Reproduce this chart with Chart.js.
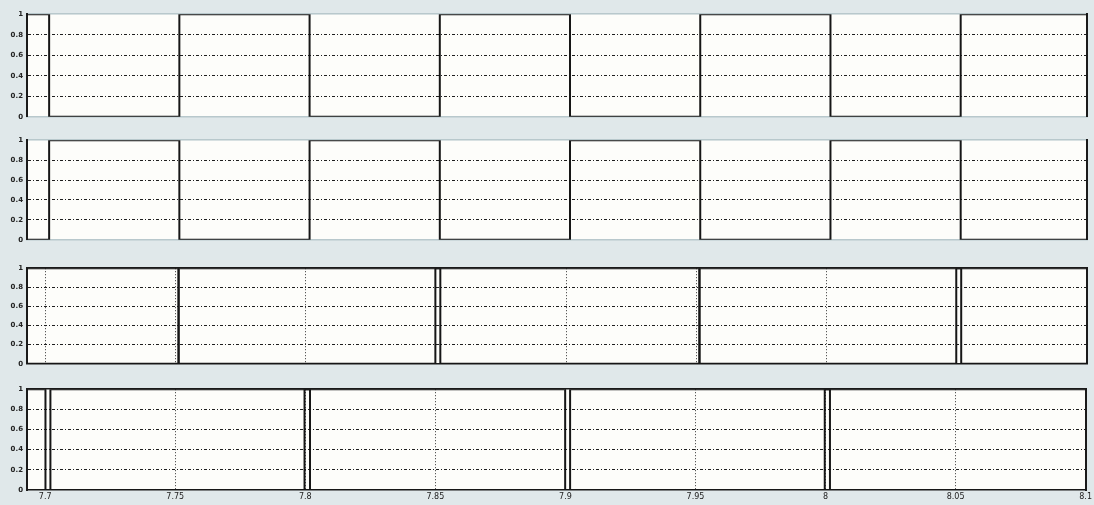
<!DOCTYPE html>
<html lang="en">
<head>
    <meta charset="UTF-8">
    <title>Scope</title>
    <script src="https://cdn.jsdelivr.net/npm/chart.js"></script>
    <style>
        body {
            margin: 0;
            padding: 0;
            background-color: #e0e8ea;
            width: 1094px;
            height: 505px;
            overflow: hidden;
            position: relative;
        }
        canvas {
            position: absolute;
            left: 0;
        }
    </style>
</head>
<body>
    <canvas id="p1"></canvas>
    <canvas id="p2"></canvas>
    <canvas id="p3"></canvas>
    <canvas id="p4"></canvas>

    <script>
        // x axis range and ticks
        const xMin = 7.693;
        const xMax = 8.1;
        const xTickValues = [7.7, 7.75, 7.8, 7.85, 7.9, 7.95, 8.0, 8.05, 8.1];
        const xTickLabels = ['7.7', '7.75', '7.8', '7.85', '7.9', '7.95', '8', '8.05', '8.1'];
        const yTickValues = [0, 0.2, 0.4, 0.6, 0.8, 1];
        const yTickLabels = ['0', '0.2', '0.4', '0.6', '0.8', '1'];

        // panel 1 / 2 : switching signals (time of each edge, level after it)
        const s1Times  = [7.693, 7.7015, 7.7515, 7.8015, 7.8515, 7.9015, 7.9515, 8.0015, 8.0515, 8.1];
        const s1Levels = [1, 0, 1, 0, 1, 0, 1, 0, 1, 1];
        const s2Times  = [7.693, 7.7015, 7.7515, 7.8015, 7.8515, 7.9015, 7.9515, 8.0015, 8.0515, 8.1];
        const s2Levels = [0, 1, 0, 1, 0, 1, 0, 1, 0, 0];

        // panel 3 : two complementary signals
        const s3aTimes  = [7.693, 7.7512, 7.8498, 7.9512, 8.0498, 8.1];
        const s3aLevels = [1, 0, 1, 0, 1, 1];
        const s3bTimes  = [7.693, 7.7512, 7.8517, 7.9512, 8.0517, 8.1];
        const s3bLevels = [0, 1, 0, 1, 0, 0];

        // panel 4 : two complementary signals
        const s4aTimes  = [7.693, 7.7001, 7.7997, 7.8999, 7.9997, 8.1];
        const s4aLevels = [1, 0, 1, 0, 1, 1];
        const s4bTimes  = [7.693, 7.702, 7.8018, 7.9018, 8.0017, 8.1];
        const s4bLevels = [0, 1, 0, 1, 0, 0];

        function toPoints(times, levels) {
            return times.map((t, i) => ({ x: t, y: levels[i] }));
        }

        // white plot area
        const plotBg = {
            id: 'plotBg',
            beforeDraw(chart) {
                const a = chart.chartArea;
                const ctx = chart.ctx;
                ctx.save();
                ctx.fillStyle = '#fdfdfa';
                ctx.fillRect(a.left, a.top, a.right - a.left, a.bottom - a.top);
                ctx.restore();
            }
        };

        function makePanel(id, top, areaH, series, opts) {
            const canvas = document.getElementById(id);
            const padTop = 8;
            const axisH = opts.showX ? 15 : 0;
            const padBottom = opts.showX ? 0 : 8;
            canvas.width = 1094;
            canvas.height = padTop + areaH + axisH + padBottom;
            canvas.style.top = (top - padTop) + 'px';

            const datasets = series.map(s => ({
                data: toPoints(s.times, s.levels),
                borderColor: s.color || '#161616',
                borderWidth: 2,
                stepped: true,
                pointRadius: 0,
                fill: false
            }));

            new Chart(canvas.getContext('2d'), {
                type: 'line',
                data: { datasets: datasets },
                options: {
                    responsive: false,
                    animation: false,
                    layout: { padding: { top: padTop, bottom: padBottom, left: 0, right: 7 } },
                    plugins: { legend: { display: false }, tooltip: { enabled: false } },
                    scales: {
                        x: {
                            type: 'linear',
                            min: xMin,
                            max: xMax,
                            afterBuildTicks: s => { s.ticks = xTickValues.map(v => ({ value: v })); },
                            afterFit: s => { s.height = axisH; },
                            ticks: {
                                display: opts.showX,
                                autoSkip: false,
                                maxRotation: 0,
                                padding: 2,
                                color: '#222',
                                font: { family: 'DejaVu Sans', size: 8 },
                                callback: (v, i) => xTickLabels[i]
                            },
                            grid: {
                                display: opts.vGrid,
                                drawTicks: false,
                                color: ctx => (ctx.tick && ctx.tick.value >= 8.1) ? 'rgba(0,0,0,0)' : '#333',
                                lineWidth: 1
                            },
                            // in v4 border.dash styles the grid lines
                            border: { display: true, color: opts.boxColor, width: 1.5, dash: [1, 2] }
                        },
                        x2: {
                            type: 'linear',
                            position: 'top',
                            min: xMin,
                            max: xMax,
                            afterFit: s => { s.height = 0; },
                            ticks: { display: false },
                            grid: { display: false, drawTicks: false },
                            border: { display: true, color: opts.boxColor, width: 1.5 }
                        },
                        y: {
                            min: 0,
                            max: 1,
                            afterBuildTicks: s => { s.ticks = yTickValues.map(v => ({ value: v })); },
                            afterFit: s => { s.width = 27; },
                            ticks: {
                                padding: 4,
                                color: '#222',
                                font: { family: 'DejaVu Sans', size: 7, weight: 'bold' },
                                callback: (v, i) => yTickLabels[i]
                            },
                            grid: {
                                drawTicks: false,
                                color: ctx => (ctx.tick && (ctx.tick.value === 0 || ctx.tick.value === 1)) ? 'rgba(0,0,0,0)' : '#1e1e1e',
                                lineWidth: 1
                            },
                            border: { display: true, color: '#1a1a1a', width: 2, dash: [3, 2, 1, 2] }
                        },
                        y2: {
                            position: 'right',
                            min: 0,
                            max: 1,
                            afterFit: s => { s.width = 0; },
                            ticks: { display: false },
                            grid: { display: false, drawTicks: false },
                            border: { display: true, color: '#1a1a1a', width: 2 }
                        }
                    }
                },
                plugins: [plotBg]
            });
        }

        makePanel('p1', 14, 103, [{ times: s1Times, levels: s1Levels }],
            { showX: false, vGrid: false, boxColor: '#b8c8cc' });
        makePanel('p2', 140, 100, [{ times: s2Times, levels: s2Levels }],
            { showX: false, vGrid: false, boxColor: '#b8c8cc' });
        makePanel('p3', 268, 96, [
                { times: s3aTimes, levels: s3aLevels },
                { times: s3bTimes, levels: s3bLevels }
            ], { showX: false, vGrid: true, boxColor: '#1a1a1a' });
        makePanel('p4', 389, 101, [
                { times: s4aTimes, levels: s4aLevels },
                { times: s4bTimes, levels: s4bLevels }
            ], { showX: true, vGrid: true, boxColor: '#1a1a1a' });
    </script>
</body>
</html>
